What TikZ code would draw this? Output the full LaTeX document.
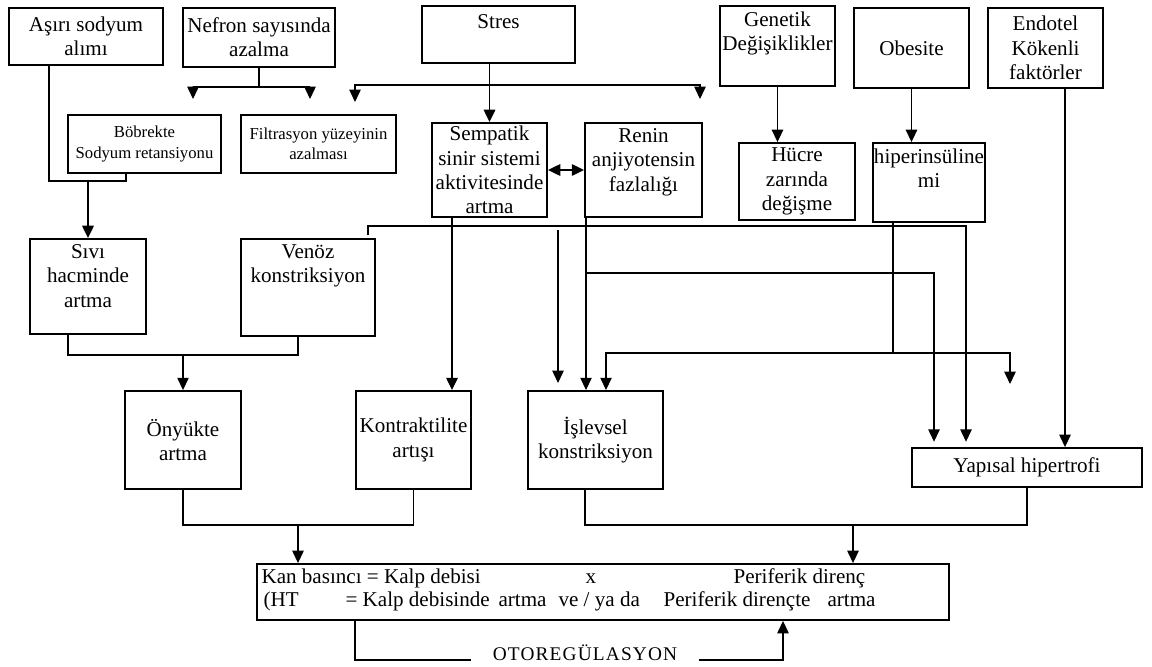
\documentclass[tikz,border=0pt]{standalone}
\usepackage{fontspec}
\setmainfont{Liberation Serif}
\usetikzlibrary{arrows.meta}
\newcommand\boxfont{\fontsize{12}{13.8}\selectfont}
\newcommand\smallboxfont{\fontsize{9.5}{11.5}\selectfont}
\tikzset{
  box/.style={draw, line width=1.1pt, align=center, inner sep=1pt, font=\boxfont},
  toptext/.style={anchor=north, align=center, inner sep=3.5pt, font=\boxfont},
  arr/.style={-{Triangle[width=6.5pt,length=7pt]}},
  dblarr/.style={{Triangle[width=6.5pt,length=7pt]}-{Triangle[width=6.5pt,length=7pt]}},
  conn/.style={line width=0.6pt},
  thickconn/.style={line width=1.1pt},
  kantext/.style={anchor=base west, inner sep=0pt, font=\boxfont}
}
\begin{document}
\begin{tikzpicture}[x=0.02cm,y=-0.02cm,conn]
\useasboundingbox (0,0) rectangle (1152,666);
% first row
\node[box, minimum width=3.08cm, minimum height=1.14cm] (asiri) at (86,36.5) {Aşırı sodyum\\alımı};
\node[box, minimum width=3.04cm, minimum height=1.18cm] (nefron) at (259,37.5) {Nefron sayısında\\azalma};
\node[box, minimum width=3.06cm, minimum height=1.14cm, label={[toptext,inner sep=5pt]north:Stres}] (stres) at (498.5,34.5) {};
\node[box, minimum width=2.3cm, minimum height=1.6cm, label={[toptext]north:{Genetik\\Değişiklikler}}] (genetik) at (777.5,46) {};
\node[box, minimum width=2.3cm, minimum height=1.6cm] (obesite) at (911.5,48) {Obesite};
\node[box, minimum width=2.3cm, minimum height=1.6cm] (endotel) at (1045.5,48) {Endotel\\Kökenli\\faktörler};
% second row
\node[box, font=\smallboxfont, minimum width=3.06cm, minimum height=1.16cm] (bobrek) at (144.5,144) {Böbrekte\\Sodyum retansiyonu};
\node[box, font=\smallboxfont, minimum width=3.1cm, minimum height=1.16cm] (filtre) at (318.5,144) {Filtrasyon yüzeyinin\\azalması};
\node[box, minimum width=2.3cm, minimum height=1.88cm] (sempatik) at (489.5,170) {Sempatik\\sinir sistemi\\aktivitesinde\\artma};
\node[box, minimum width=2.34cm, minimum height=1.88cm, label={[toptext]north:{Renin\\anjiyotensin\\fazlalığı}}] (renin) at (643.5,170) {};
\node[box, minimum width=2.32cm, minimum height=1.54cm] (hucre) at (797,181.5) {Hücre\\zarında\\değişme};
\node[box, minimum width=2.24cm, minimum height=1.58cm, label={[toptext]north:{hiperinsüline\\mi}}] (hiper) at (929,182.5) {};
% third row
\node[box, minimum width=2.32cm, minimum height=1.9cm, label={[toptext]north:{Sıvı\\hacminde\\artma}}] (sivi) at (88,286.5) {};
\node[box, minimum width=2.68cm, minimum height=1.94cm, label={[toptext]north:{Venöz\\konstriksiyon}}] (venoz) at (308,287.5) {};
% fourth row
\node[box, minimum width=2.32cm, minimum height=1.96cm] (onyuk) at (183,440) {Önyükte\\artma};
\node[box, minimum width=2.3cm, minimum height=1.96cm] (kontr) at (413.5,440) {Kontraktilite\\artışı};
\node[box, minimum width=2.7cm, minimum height=1.96cm] (islev) at (595.5,440) {İşlevsel\\konstriksiyon};
\node[box, minimum width=4.6cm, minimum height=0.78cm] (yapisal) at (1027,467.5) {Yapısal hipertrofi};
% result box
\node[box, minimum width=13.84cm, minimum height=1.12cm] (kan) at (603,592) {};
\node[kantext] (kan1) at (261,583) {Kan basıncı = Kalp debisi};
\node[kantext] (kan2) at (585,583) {x};
\node[kantext] (kan3) at (733,583) {Periferik direnç};
\node[kantext] (kan4) at (263,606) {(HT};
\node[kantext] (kan5) at (345,606) {= Kalp debisinde};
\node[kantext] (kan6) at (498,606) {artma};
\node[kantext] (kan7) at (558,606) {ve / ya da};
\node[kantext] (kan8) at (663,606) {Periferik dirençte};
\node[kantext] (kan9) at (827,606) {artma};
\node[anchor=base, inner ysep=0pt, inner xsep=12pt, font={\fontsize{11}{13}\selectfont\addfontfeature{LetterSpace=6}}] (oto) at (585,660) {OTOREGÜLASYON};

% sodium
\coordinate (j1) at (88,181);
\draw (49,0 |- asiri.south) |- (126,181) -- (126,0 |- bobrek.south);
\draw[thickconn, arr] (j1) -- (sivi.north);
% nefron
\coordinate (nf) at (259,87);
\coordinate (nf1) at (193,99);
\coordinate (nf2) at (310,99);
\draw (nefron.south) -- (nf);
\draw[arr] (nf) -| (nf1);
\draw[arr] (nf) -| (nf2);
% stres
\coordinate (st) at (489.5,85);
\coordinate (st1) at (355,102);
\coordinate (st2) at (700,99);
\draw[thickconn, arr] (stres.south -| sempatik.north) -- (sempatik.north);
\draw[arr] (st) -| (st1);
\draw[arr] (st) -| (st2);
\draw[thickconn, dblarr] (sempatik.east) -- (renin.west);
\draw[line width=0.8pt, arr] (genetik.south) -- (genetik.south |- hucre.north);
\draw[line width=0.8pt, arr] (obesite.south) -- (obesite.south |- hiper.north);
\draw[arr] (1065,0 |- endotel.south) -- (1065,0 |- yapisal.north);
% preload
\draw (68,0 |- sivi.south) |- (298,355) -- (298,0 |- venoz.south);
\draw[arr] (onyuk.north |- 0,355) -- (onyuk.north);
\draw[thickconn, arr] (452,0 |- sempatik.south) -- (452,0 |- kontr.north);
% to yapisal hipertrofi
\coordinate (vt) at (368,235);
\coordinate (r1) at (586,273);
\draw[arr, shorten >=3pt] (vt) |- (966,226) -- (966,0 |- yapisal.north);
\draw[arr, shorten >=3pt] (r1) -| (934,0 |- yapisal.north);
% to islevsel konstriksiyon
\coordinate (f1) at (558,230);
\coordinate (f2) at (558,383);
\draw[arr] (586,0 |- renin.south) -- (586,0 |- islev.north);
\draw[arr] (f1) -- (f2);
\coordinate (hp) at (893,353);
\coordinate (hp1) at (1010,384);
\draw (893,0 |- hiper.south) -- (hp);
\draw[arr] (hp) -| (606,0 |- islev.north);
\draw[arr] (hp) -| (hp1);
% to kan basinci
\draw (onyuk.south) |- (kontr.south |- 0,525) -- (kontr.south);
\draw[arr] (298,525) -- (298,0 |- kan.north);
\draw (585,0 |- islev.south) |- (yapisal.south |- 0,525) -- (yapisal.south);
\draw[arr] (853,525) -- (853,0 |- kan.north);
% otoregulasyon
\draw (355,0 |- kan.south) |- (oto.base west);
\draw[arr] (oto.base east) -| (783,0 |- kan.south);
\end{tikzpicture}
\end{document}
